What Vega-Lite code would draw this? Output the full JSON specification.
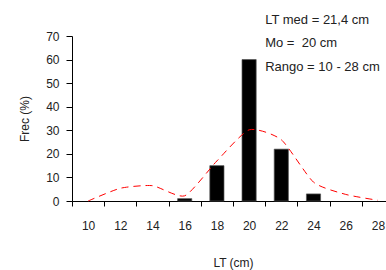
{
  "$schema": "https://vega.github.io/schema/vega-lite/v6.json",
  "width": 314,
  "height": 165,
  "autosize": {"type": "none"},
  "padding": {"left": 72, "top": 36, "right": 0, "bottom": 69},
  "background": "white",
  "config": {
    "view": {"stroke": null},
    "font": "Liberation Sans",
    "axis": {
      "labelFont": "Liberation Sans",
      "titleFont": "Liberation Sans",
      "labelFontSize": 12,
      "titleFontSize": 12,
      "titleFontWeight": "normal",
      "labelColor": "#222",
      "titleColor": "#222",
      "domainColor": "black",
      "tickColor": "black",
      "grid": false
    }
  },
  "datasets": {
    "freq": [
      {"LT": "10", "bar": 0, "curve": 0},
      {"LT": "12", "bar": 0, "curve": 5.4},
      {"LT": "14", "bar": 0, "curve": 6.5},
      {"LT": "16", "bar": 1, "curve": 2.2},
      {"LT": "18", "bar": 15, "curve": 17},
      {"LT": "20", "bar": 60, "curve": 30.2},
      {"LT": "22", "bar": 22, "curve": 26},
      {"LT": "24", "bar": 3, "curve": 8},
      {"LT": "26", "bar": 0, "curve": 2.8},
      {"LT": "28", "bar": 0, "curve": 0.3}
    ],
    "notes": [
      {"LT": "22", "y": 77, "label": "LT med = 21,4 cm"},
      {"LT": "22", "y": 67, "label": "Mo = \u00a020 cm"},
      {"LT": "22", "y": 57, "label": "Rango = 10 - 28 cm"}
    ]
  },
  "encoding": {
    "x": {
      "field": "LT",
      "type": "ordinal",
      "sort": ["10","12","14","16","18","20","22","24","26","28"],
      "scale": {"range": [0, 322], "paddingInner": 0, "paddingOuter": 0},
      "axis": {
        "title": "LT (cm)",
        "labelAngle": 0,
        "tickBand": "extent",
        "tickSize": 5,
        "labelPadding": 14,
        "titlePadding": 26
      }
    }
  },
  "layer": [
    {
      "data": {"name": "freq"},
      "transform": [{"filter": "datum.bar > 0"}],
      "mark": {"type": "bar", "color": "black", "stroke": "#555", "strokeWidth": 0.7, "width": {"band": 0.44}},
      "encoding": {
        "y": {
          "field": "bar",
          "type": "quantitative",
          "scale": {"domain": [0, 70]},
          "axis": {
            "title": "Frec (%)",
            "values": [0,10,20,30,40,50,60,70],
            "tickCount": 8,
            "tickSize": 6,
            "labelPadding": 7,
            "titlePadding": 14
          }
        }
      }
    },
    {
      "data": {"name": "freq"},
      "mark": {"type": "line", "color": "#FF0000", "strokeWidth": 1, "strokeDash": [7, 5], "interpolate": "cardinal", "tension": 0.4},
      "encoding": {
        "y": {
          "field": "curve",
          "type": "quantitative",
          "axis": {
            "title": "Frec (%)",
            "values": [0,10,20,30,40,50,60,70],
            "tickCount": 8,
            "tickSize": 6,
            "labelPadding": 7,
            "titlePadding": 14
          }
        }
      }
    },
    {
      "data": {"name": "notes"},
      "mark": {"type": "text", "align": "left", "baseline": "middle", "fontSize": 13, "color": "#222", "font": "Liberation Sans"},
      "encoding": {
        "x": {"field": "LT", "type": "ordinal", "bandPosition": 0, "sort": ["10","12","14","16","18","20","22","24","26","28"]},
        "y": {"field": "y", "type": "quantitative", "axis": {"title": "Frec (%)", "values": [0,10,20,30,40,50,60,70], "tickCount": 8, "tickSize": 6, "labelPadding": 7, "titlePadding": 14}},
        "text": {"field": "label"}
      }
    }
  ]
}
